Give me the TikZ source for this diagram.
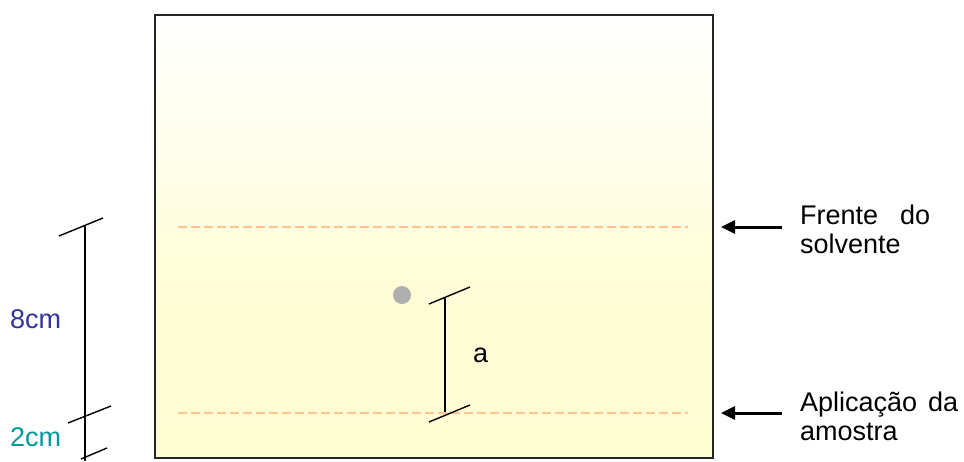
\documentclass[tikz,border=0pt]{standalone}
\usepackage{fontspec}
\setmainfont{Liberation Sans}
\usetikzlibrary{arrows.meta}
\definecolor{paperyellow}{RGB}{255,253,202}
\definecolor{dashorange}{RGB}{255,196,145}
\definecolor{dotgray}{RGB}{175,175,175}
\definecolor{eightblue}{RGB}{51,51,153}
\definecolor{twoteal}{RGB}{0,153,153}
\pgfdeclareverticalshading{platefade}{100bp}{
  color(0bp)=(paperyellow);
  color(45bp)=(paperyellow!75!white);
  color(75bp)=(white);
  color(100bp)=(white)}
\tikzset{
  dashline/.style={dashorange, line width=2.8pt, dash pattern=on 9pt off 4pt},
  measure/.style={black, line width=1.4pt},
  pointer/.style={black, line width=3pt, -{Triangle[length=14pt,width=13pt]}},
  label/.style={font=\fontsize{27}{29}\selectfont, inner sep=0pt, align=left},
}
\begin{document}
\begin{tikzpicture}[x=1pt,y=-1pt]
\useasboundingbox (0,0) rectangle (964,461);
% plate
\shade[shading=platefade] (154,14) rectangle (712,457);
\node[draw=black!85, line width=1.6pt, minimum width=558pt, minimum height=443pt, inner sep=0pt, anchor=north west] (plate) at (154,14) {};
% dashed lines
\coordinate (f1) at (178,227); \coordinate (f2) at (688,227);
\coordinate (a1) at (178,413); \coordinate (a2) at (688,413);
\draw[dashline] (f1) -- (f2);
\draw[dashline] (a1) -- (a2);
% spot
\node[circle, fill=dotgray, minimum size=18pt, inner sep=0pt] (spot) at (402,295) {};
% measure a
\coordinate (at) at (445,297); \coordinate (ab) at (445,412);
\draw[measure] (at) -- (ab);
\draw[measure] (429,304) -- (470,287);
\draw[measure] (429,422) -- (470,405);
\node[label, anchor=base west] (alab) at (473,362) {a};
% left measure
\coordinate (lt) at (85,226); \coordinate (lb) at (85,461);
\draw[measure] (lt) -- (lb);
\draw[measure] (59,236) -- (103,218);
\draw[measure] (68,423) -- (111,406);
\draw[measure] (81,459) -- (107,448);
\node[label, text=eightblue, anchor=base west] (eight) at (10,328) {8cm};
\node[label, text=twoteal, anchor=base west] (two) at (10,446) {2cm};
% arrows
\coordinate (p1s) at (782,227); \coordinate (p1e) at (721,227);
\coordinate (p2s) at (782,413); \coordinate (p2e) at (721,413);
\draw[pointer] (p1s) -- (p1e);
\draw[pointer] (p2s) -- (p2e);
\node[label, anchor=north west] (frente) at (800,205) {\makebox[130pt][s]{Frente\hfill do}\\solvente};
\node[label, anchor=north west] (aplic) at (800,392) {\makebox[158pt][s]{Aplicação\hfill da}\\amostra};
\end{tikzpicture}
\end{document}
